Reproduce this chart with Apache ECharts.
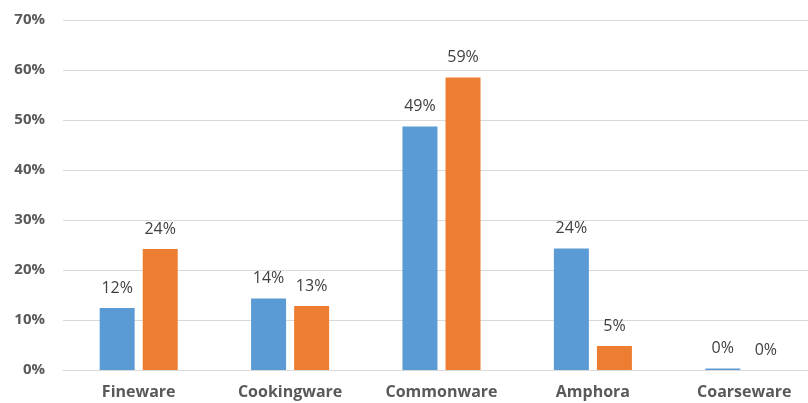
<!DOCTYPE html>
<html>
<head>
<meta charset="utf-8">
<script src="https://cdn.jsdelivr.net/npm/echarts@6/dist/echarts.min.js"></script>
<style>
html,body{margin:0;padding:0;background:#fff;}
#chart{width:808px;height:403px;}
</style>
</head>
<body>
<div id="chart"></div>
<script>
//类别与数值
var categories = ['Fineware', 'Cookingware', 'Commonware', 'Amphora', 'Coarseware'];
var seriesA = [12.4, 14.3, 48.7, 24.3, 0.3];
var seriesB = [24.2, 12.8, 58.5, 4.8, 0];
var yTicks = [0, 10, 20, 30, 40, 50, 60, 70];

var myChart = echarts.init(document.getElementById('chart'));

var labelStyle = {
	show: true,
	position: 'top',
	distance: 12,
	color: '#404040',
	fontSize: 16,
	fontFamily: 'Open Sans',
	formatter: function (p) { return Math.round(p.value) + '%'; }
};

myChart.setOption({
	animation: false,
	grid: {left: 63, top: 20, width: 757, bottom: 33, outerBoundsMode: 'none', containLabel: false},
	xAxis: {
		type: 'category',
		data: categories,
		axisLine: {lineStyle: {color: '#d9d9d9'}},
		axisTick: {show: false},
		axisLabel: {color: '#595959', fontSize: 16, fontWeight: 'bold', fontFamily: 'Open Sans', margin: 14}
	},
	yAxis: {
		type: 'value',
		min: yTicks[0],
		max: yTicks[yTicks.length - 1],
		interval: 10,
		axisLine: {show: false},
		axisTick: {show: false},
		splitLine: {lineStyle: {color: '#d9d9d9'}},
		axisLabel: {color: '#595959', fontSize: 15, fontWeight: 'bold', fontFamily: 'Open Sans', margin: 18,
			formatter: function (v) { return v + '%'; }}
	},
	series: [
		{type: 'bar', data: seriesA, barWidth: 35, barGap: '23%', itemStyle: {color: '#5B9BD5'}, label: labelStyle},
		{type: 'bar', data: seriesB, barWidth: 35, itemStyle: {color: '#ED7D31'}, label: labelStyle}
	]
});
</script>
</body>
</html>
